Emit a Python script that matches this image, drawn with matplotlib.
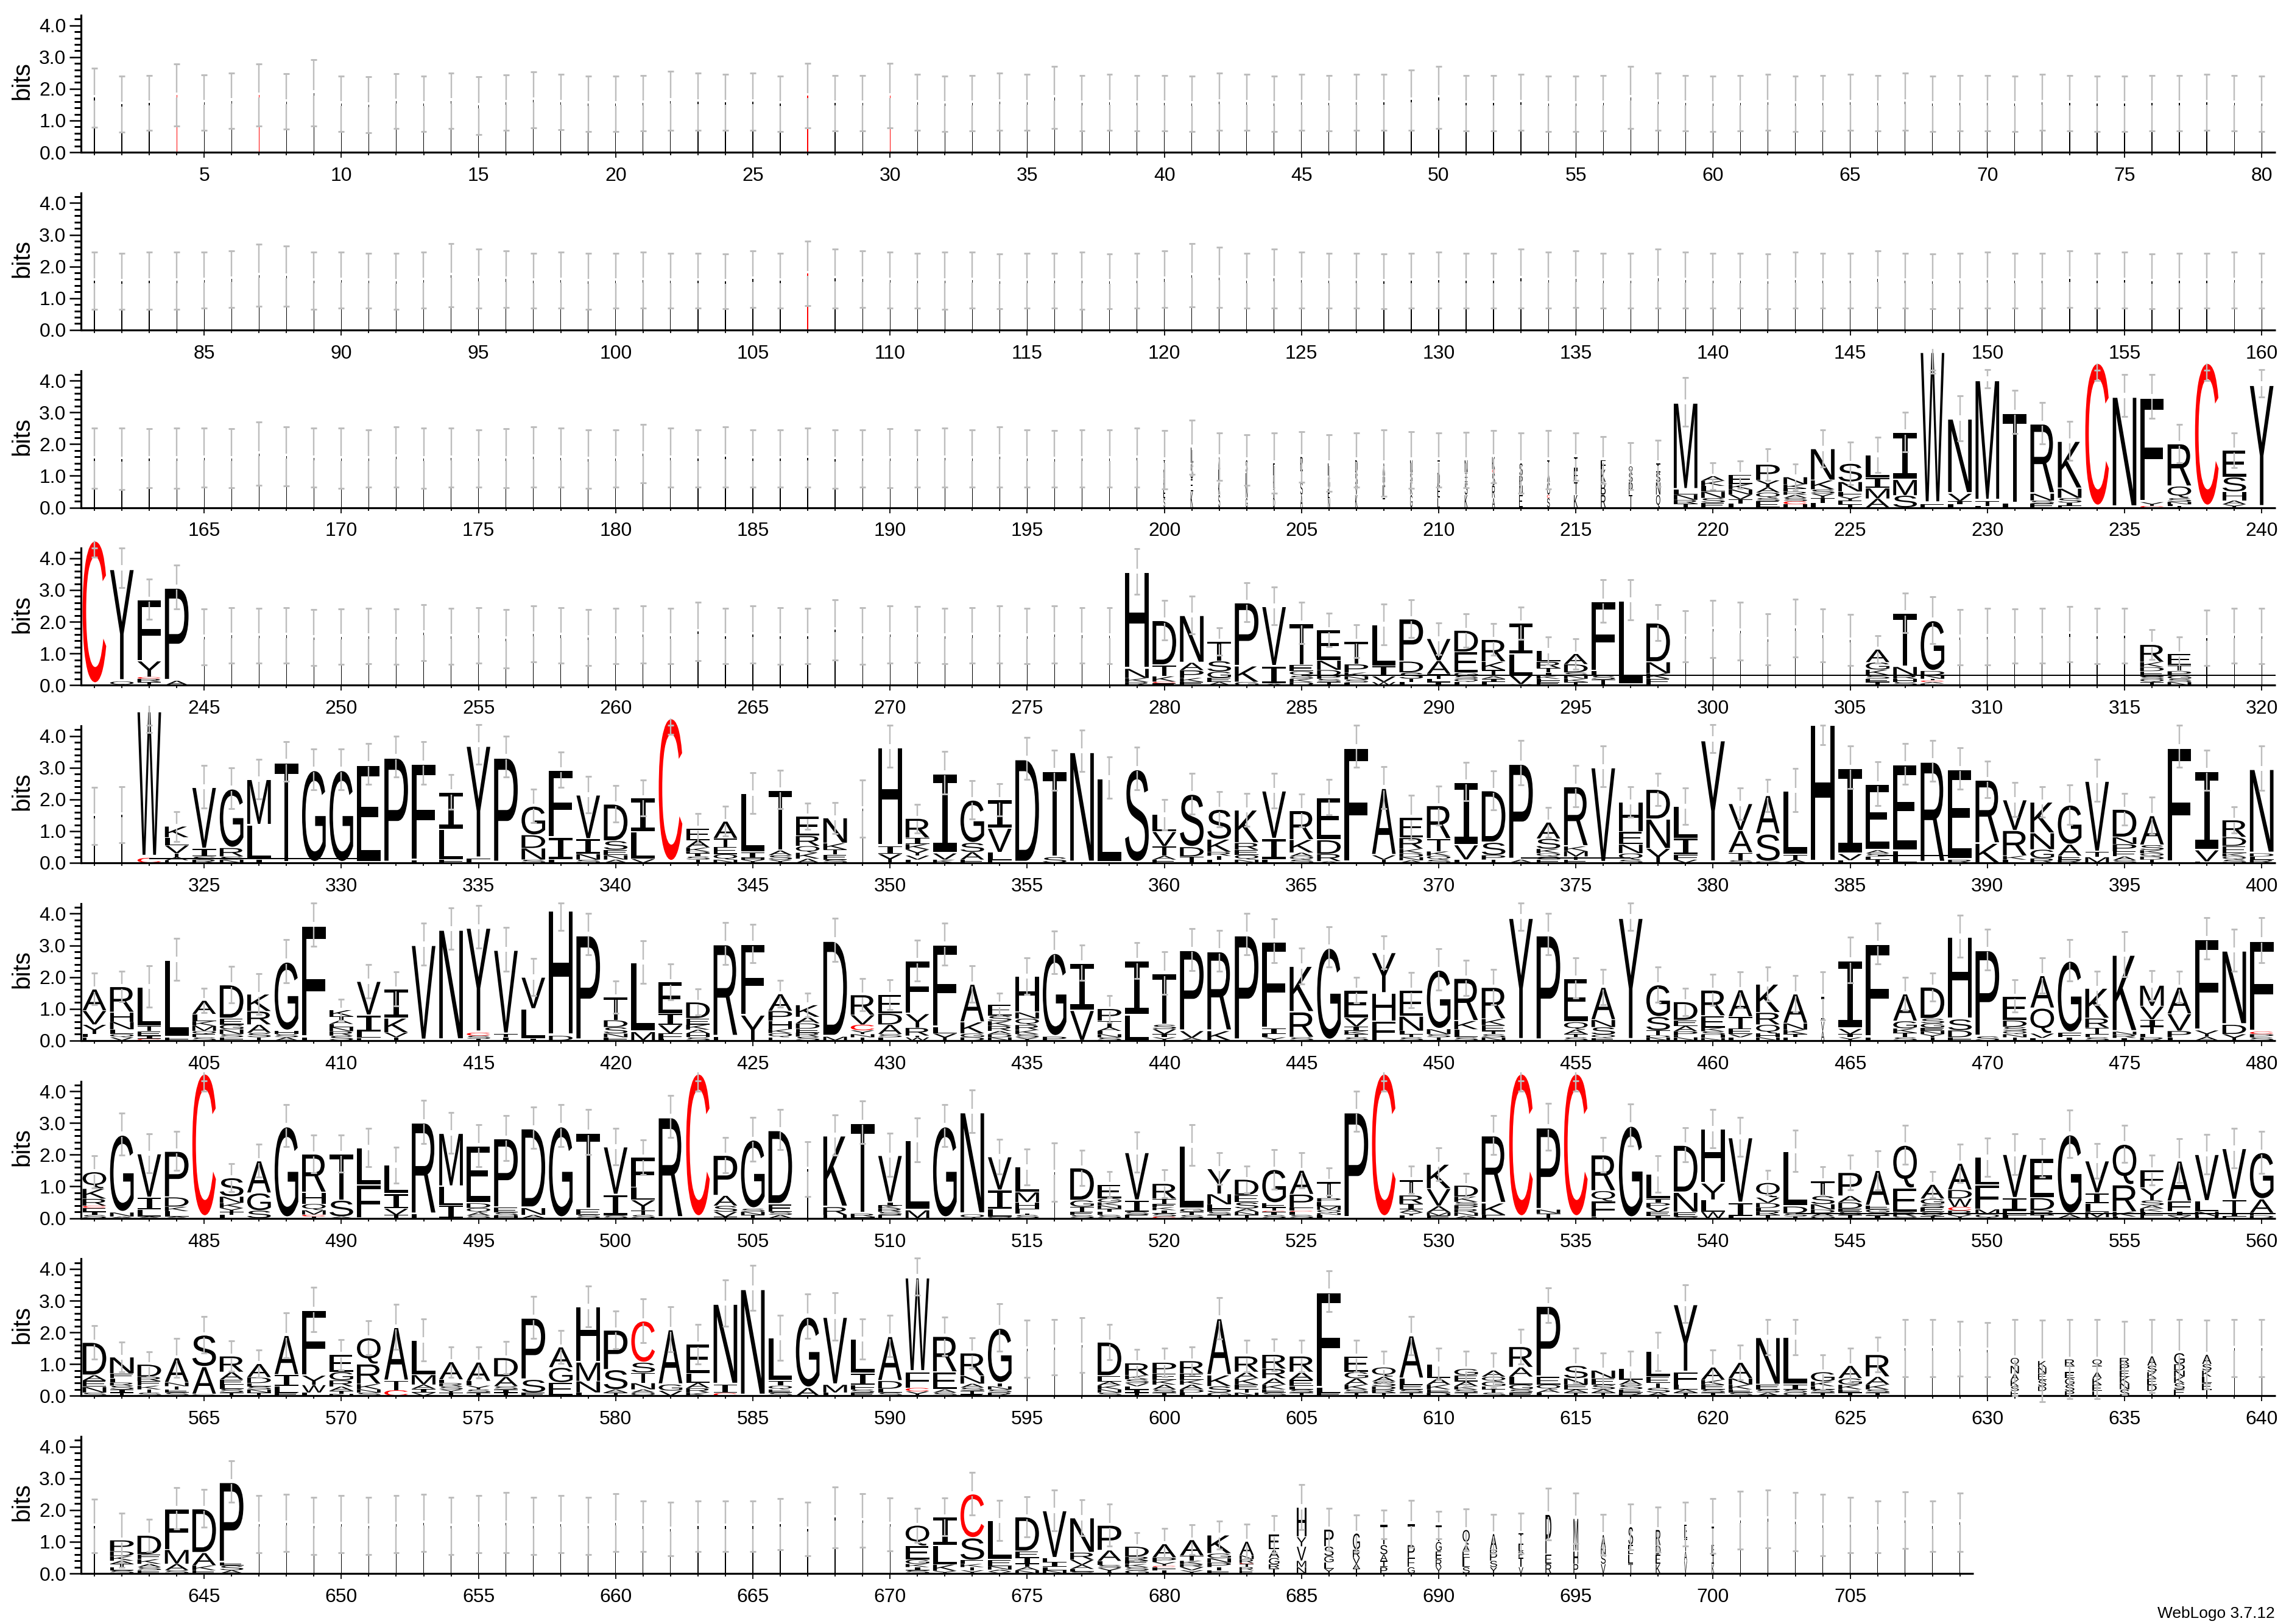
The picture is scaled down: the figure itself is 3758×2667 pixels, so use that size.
#!/usr/bin/env python3
"""Sequence logo, 709 positions in nine rows of 80 columns each."""

import matplotlib
matplotlib.use("Agg")
import matplotlib.pyplot as plt
from matplotlib.font_manager import FontProperties
from matplotlib.patches import PathPatch
from matplotlib.path import Path
from matplotlib.textpath import TextPath
from matplotlib.transforms import Affine2D

# ---------------------------------------------------------------------------
# Data. Stack entry: float = unresolved sliver of that height, "!h" = red sliver,
# string = letters bottom to top, each with its height in bits.
# ---------------------------------------------------------------------------

row1_stacks = [
    1.72, 1.52, 1.56, "!1.8", 1.57, 1.62, "!1.8", 1.6, 1.87, 1.53,
    1.5, 1.61, 1.53, 1.62, 1.47, 1.57, 1.65, 1.58, 1.53, 1.53,
    1.55, 1.62, 1.6, 1.57, 1.6, 1.53, "!1.78", 1.55, 1.55, "!1.78",
    1.57, 1.53, 1.55, 1.6, 1.57, 1.72, 1.55, 1.57, 1.55, 1.55,
    1.53, 1.6, 1.57, 1.53, 1.57, 1.55, 1.57, 1.57, 1.65, 1.72,
    1.55, 1.55, 1.57, 1.53, 1.53, 1.55, 1.72, 1.6, 1.55, 1.53,
    1.55, 1.57, 1.53, 1.55, 1.57, 1.55, 1.6, 1.53, 1.55, 1.55,
    1.53, 1.57, 1.55, 1.53, 1.53, 1.55, 1.55, 1.57, 1.55, 1.53,
]
row1_tops = [
    2.65, 2.4, 2.42, 2.78, 2.44, 2.5, 2.78, 2.47, 2.92, 2.4,
    2.38, 2.48, 2.4, 2.5, 2.38, 2.44, 2.53, 2.45, 2.4, 2.4,
    2.42, 2.55, 2.5, 2.45, 2.5, 2.4, 2.8, 2.42, 2.42, 2.8,
    2.45, 2.4, 2.42, 2.5, 2.45, 2.7, 2.42, 2.45, 2.42, 2.42,
    2.4, 2.5, 2.45, 2.4, 2.45, 2.42, 2.45, 2.45, 2.6, 2.7,
    2.42, 2.42, 2.45, 2.4, 2.4, 2.42, 2.7, 2.5, 2.42, 2.4,
    2.42, 2.45, 2.4, 2.42, 2.45, 2.42, 2.5, 2.4, 2.42, 2.42,
    2.4, 2.45, 2.42, 2.4, 2.4, 2.42, 2.42, 2.45, 2.42, 2.4,
]

row2_stacks = [
    1.55, 1.53, 1.55, 1.55, 1.57, 1.6, 1.72, 1.7, 1.55, 1.57,
    1.55, 1.53, 1.57, 1.72, 1.62, 1.6, 1.55, 1.57, 1.53, 1.55,
    1.57, 1.55, 1.55, 1.53, 1.6, 1.55, "!1.78", 1.62, 1.6, 1.57,
    1.55, 1.55, 1.57, 1.53, 1.55, 1.55, 1.55, 1.53, 1.55, 1.6,
    1.72, 1.65, 1.55, 1.62, 1.57, 1.55, 1.55, 1.53, 1.55, 1.57,
    1.55, 1.55, 1.62, 1.57, 1.6, 1.55, 1.55, 1.62, 1.57, 1.55,
    1.55, 1.53, 1.57, 1.55, 1.55, 1.6, 1.55, 1.53, 1.55, 1.57,
    1.55, 1.55, 1.6, 1.55, 1.57, 1.53, 1.55, 1.55, 1.57, 1.55,
]
row2_tops = [
    2.45, 2.42, 2.45, 2.45, 2.45, 2.5, 2.7, 2.65, 2.45, 2.45,
    2.42, 2.42, 2.45, 2.72, 2.55, 2.5, 2.42, 2.45, 2.42, 2.42,
    2.45, 2.42, 2.42, 2.4, 2.5, 2.42, 2.8, 2.55, 2.5, 2.45,
    2.42, 2.45, 2.45, 2.4, 2.42, 2.42, 2.45, 2.4, 2.42, 2.5,
    2.72, 2.6, 2.42, 2.55, 2.45, 2.42, 2.42, 2.4, 2.42, 2.45,
    2.42, 2.42, 2.55, 2.45, 2.5, 2.42, 2.42, 2.55, 2.45, 2.42,
    2.42, 2.4, 2.45, 2.42, 2.42, 2.5, 2.42, 2.4, 2.42, 2.45,
    2.42, 2.42, 2.5, 2.42, 2.45, 2.4, 2.42, 2.42, 2.45, 2.42,
]

row3_stacks = [
    1.55, 1.53, 1.55, 1.55, 1.57, 1.55, 1.7, 1.62, 1.57, 1.55,
    1.55, 1.6, 1.55, 1.57, 1.55, 1.55, 1.6, 1.57, 1.53, 1.55,
    1.7, 1.57, 1.55, 1.6, 1.55, 1.55, 1.57, 1.53, 1.55, 1.55,
    1.55, 1.57, 1.55, 1.6, 1.55, 1.53, 1.55, 1.55, 1.57,
    "S.3 E.3 K.3 N.3 T.3", "K.5 E.4 S.5 L.5", "S.4 K.4 E.4 A.4", "G.3 N.4 E.4 S.4", "D.3 T.3 K.4 E.4", "A.4 S.4 T.4 P.4",
    "N.3 E.3 G.4 L.4", "K.4 V.3 S.4 D.4", "T.3 E.4 Q.3 A.4", "G.4 K.4 S.3 N.4", "L.3 E.4 D.4 T.4", "K.4 S.4 E.3 N.4", "A.3 R.4 S.4 C.1 K.4",
    "E.4 N.3 P.3 S.4", "S.3 C.1 G.4 A.3 T.4", "K.4 T.4 E.4 I.4", "R.4 B.4 K.4 F.3", "T.4 P.4 S.3 Q.2", "Q.4 N.4 S.3 I.3",
    "T.12 R.12 N.17 L.15 M2.77", "E.15 S.15 N.2 L.18 K.16 A.15", "L.12 T.14 V.15 N.16 K.17 E.3", "E.2 S.1 Q.17 A.17 Y.22 P.5",
    "H.1 C.1 S.1 A.1 R.1 E.1 K.13 N.23", "L.15 T.15 Y.14 S.13 K.29 N1.0", "T.1 E.12 Y.13 F.15 N.31 S.58", "A.28 M.33 I.33 L.72", "S.38 M.5 I1.5",
    "E.1 W4.87", "L.1 I.1 V.24 N2.38", "L.05 T.15 M3.86", "L.13 T2.88", "E.12 S.1 N.22 R2.22", "E.05 I.1 S.15 N.3 K1.5",
    "C4.62", "N3.53", "C.05 Y.12 F3.33", "T.05 L.05 N.08 S.12 Q.37 R1.35", "C4.62", "Y.1 A.12 H.28 S.46 E.85", "Y3.91",
]
row3_tops = [
    2.5, 2.5, 2.48, 2.5, 2.5, 2.48, 2.7, 2.55, 2.5, 2.5,
    2.45, 2.55, 2.5, 2.5, 2.45, 2.48, 2.55, 2.5, 2.45, 2.45,
    2.62, 2.5, 2.45, 2.55, 2.45, 2.45, 2.5, 2.45, 2.45, 2.48,
    2.45, 2.5, 2.45, 2.55, 2.45, 2.42, 2.45, 2.45, 2.5,
    2.42, 2.75, 2.35, 2.3, 2.35, 2.4, 2.3, 2.35, 2.45, 2.4,
    2.35, 2.38, 2.42, 2.35, 2.42, 2.35, 2.24, 2.04, 2.13,
    4.09, 1.41, 1.47, 1.86, 1.38, 2.45, 2.06, 2.22, 3.0,
    5.0, 3.53, 4.34, 3.69, 3.32, 2.72,
    4.55, 4.19, 4.19, 2.63, 4.55, 2.36, 4.34,
]

row4_stacks = [
    "C4.62", "Q.12 Y3.58", "T.1 R.1 C.06 Y.5 F1.95", "A.14 P2.96", 1.52, 1.57, 1.56, 1.57, 1.5, 1.53,
    1.55, 1.53, 1.65, 1.54, 1.57, 1.46, 1.62, 1.57, 1.5, 1.55,
    1.6, 1.55, 1.7, 1.55, 1.6, 1.55, 1.55, 1.75, 1.55, 1.6,
    1.6, 1.55, 1.57, 1.6, 1.55, 1.6, 1.57, 1.56,
    "R.1 K.12 N.3 H3.07", "E.06 C.05 K.17 T.35 D1.42",
    "E.1 K.13 P.24 A.24 N1.5", "A.1 E.13 G.2 S.33 T.62", "G.1 K.5 P2.02", "A.05 I.55 V1.9", "D.1 K.1 S.1 Q.14 E.2 T1.32",
    "T.1 S.1 P.1 D.18 N.3 E.97", "L.08 S.1 N.1 K.12 P.26 T.73", "W.1 V.18 I.32 L1.32", "L.1 T.1 S.2 D.35 P1.35", "I.1 L.1 T.15 A.42 V.7",
    "L.1 Q.1 S.1 G.1 E.65 D.68", "L.1 I.1 A.08 T.2 K.26 R.7", "Y.03 V.29 L.66 I.98", "E.1 F.1 K.1 I.1 T.14 R.2 L.35", "T.1 K.1 N.1 S.1 D.26 A.33",
    "T.18 S.12 L.15 F2.21", "L2.69", "E.2 K.17 N.36 D1.24", 1.54, 1.77,
    1.71, 1.45, 1.8, 1.57, 1.43, "T.1 E.1 S.12 K.17 G.23 A.41", "S.1 H.1 R.1 N.28 T1.7", "E.05 A.05 C.05 T.05 N.12 D.13 G1.6", 1.51, 1.53,
    1.55, 1.56, 1.61, 1.55, 1.56, "T.1 Q.1 S.08 E.16 D.13 K.16 R.55", "N.1 S.1 G.1 P.14 T.19 E.36", 1.49, 1.56, 1.55,
]
row4_tops = [
    4.55, 4.33, 3.35, 3.79, 2.4, 2.44, 2.42, 2.44, 2.38, 2.4,
    2.42, 2.4, 2.53, 2.42, 2.44, 2.38, 2.5, 2.44, 2.38, 2.42,
    2.5, 2.42, 2.62, 2.42, 2.5, 2.45, 2.42, 2.7, 2.45, 2.5,
    2.48, 2.42, 2.45, 2.5, 2.42, 2.5, 2.45, 2.44,
    4.31, 2.67,
    2.81, 1.81, 3.24, 3.1, 2.61, 2.28, 1.91, 2.56, 2.69, 1.97,
    2.26, 1.94, 2.47, 1.53, 1.47, 3.33, 3.33, 2.54, 2.34, 2.67,
    2.62, 2.26, 2.71, 2.4, 2.24, 1.56, 2.9, 2.78, 2.39, 2.42,
    2.4, 2.42, 2.48, 2.42, 2.42, 1.75, 1.53, 2.37, 2.42, 2.42,
]

row5_stacks = [
    1.48, 1.52, "C.16 W4.68", "E.08 A.1 T.12 V.25 L.25 K.35", "R.1 S.1 I.24 V1.96", "N.1 S.1 R.27 G1.88", "I.1 L1.1 M1.44", "T3.2", "G2.95", "G2.95",
    "E3.12", "P3.35", "L.08 F3.07", "F.1 L.95 I1.19", "F.13 Y3.6", "P3.35", "S.1 N.36 D.42 G.91", "L.1 I.7 F2.14", "S.1 N.18 I.47 V1.4", "A.1 N.14 E.17 S.28 D1.17",
    "V.12 L.85 I1.08", "C4.62", "T.1 S.1 I.1 D.05 K.13 A.23 E.38", "N.1 Q.17 E.23 T.27 A.54", "Y.1 H.05 I.18 L1.87", "Y.1 S.14 A.15 T1.92", "A.13 K.19 Q.21 R.32 E.62", "S.1 E.16 T.16 K.2 N.8", 1.71, "Y.28 I.25 H3.14",
    "L.1 V.13 Y.19 K.17 I.2 R.61", "K.1 V.2 I2.54", "E.1 A.24 S.29 G1.36", "F.08 L.25 V.76 I.9", "D3.3", "S.18 T2.74", "N3.53", "L2.69", "S2.98", "E.1 A.12 T.3 V.46 L.54",
    "T.2 D.3 S1.68", "L.1 T.12 R.12 K.4 S.95", "N.1 Q.15 E.16 R.22 K1.04", "L.1 I.66 V1.52", "S.1 Q.1 A.12 K.41 R.92", "A.05 R.23 D.44 E1.35", "F3.67", "T.1 V.14 A2.13", "A.08 N.1 D.12 K.14 R.35 E.64", "S.1 Q.12 K.14 T.4 R1.05",
    "L.1 V.46 I2.0", "T.1 P.14 S.4 D1.65", "A.1 P3.05", "E.1 G.1 Q.1 K.14 S.32 A.52", "E.1 T.1 M.17 K.15 R1.9", "V3.04", "S.1 Q.2 N.28 E.4 H.94", "Y.45 N.93 D.94", "V.1 F.15 I.52 L1.02", "Y3.91",
    "S.08 T.24 A.7 V.85", "G.05 S.86 A1.22", "A.1 T.15 L2.04", "H4.4", "L.08 V.2 I2.73", "T.1 L.1 S.1 A.1 E2.1", "L.37 E2.75", "R3.22", "R.1 E2.87", "K.61 R2.02",
    "L.1 K.12 R.8 V.97", "R.14 G.28 N.52 K.98", "R.1 E.12 A.36 G1.25", "M.18 T.16 V2.26", "S.08 A.12 E.16 P.23 N.22 D.88", "T.1 D.1 Q.1 K.1 S.16 A.93", "F3.67", "L.04 V.36 I2.52", "S.1 Q.1 K.1 E.23 D.28 R.54", "R.1 L.1 D.1 N2.68",
]
row5_tops = [
    2.38, 2.4, 4.95, 1.62, 3.08, 3.0, 3.27, 3.83, 3.59, 3.59,
    3.76, 3.99, 3.83, 2.79, 4.35, 4.0, 2.32, 3.5, 2.72, 2.44,
    2.62, 4.55, 1.56, 1.78, 2.85, 2.92, 1.88, 1.91, 2.62, 4.33,
    1.85, 3.51, 2.6, 2.5, 3.96, 3.56, 4.18, 3.35, 3.65, 2.0,
    2.83, 2.24, 2.18, 2.83, 2.17, 2.63, 4.33, 3.04, 2.13, 2.42,
    3.16, 2.9, 3.85, 1.75, 3.08, 3.68, 2.4, 2.83, 2.37, 4.35,
    2.37, 2.64, 2.97, 4.36, 3.68, 3.19, 3.76, 3.86, 3.62, 3.21,
    2.53, 2.4, 2.45, 3.27, 2.18, 2.08, 4.33, 3.56, 1.76, 3.68,
]

row6_stacks = [
    "E.1 L.1 Y.3 V.44 A.68", "V.1 Q.1 L.15 N.24 H.3 R.81", "C.05 I.1 E.14 T.17 L1.24", "F.1 L2.46", "S.1 E.1 Q.1 M.16 K.15 L.22 A.43", "F.1 S.1 N.15 G.15 E.2 D1.06", "T.1 S.14 A.26 R.42 K.54", "A.1 S.1 H.1 G2.2", "L.1 F3.56", "S.15 R.14 N.13 E.1 A.12 T.12 K.2",
    "F.08 L.2 I.52 V1.07", "T.1 V.15 K.45 I.93", "V3.04", "N3.53", "T.05 S.1 C.1 Y3.34", "I.1 T.1 V2.68", "I.05 L.95 V1.0", "D.15 H4.0", "P3.35", "F.1 N.12 S.2 D.22 T.73",
    "M.27 L2.2", "L.05 F.17 V.27 I.35 E1.01", "S.1 H.12 A.12 K.16 E.2 D.51", "F.12 R2.94", "Y.8 F2.26", "E.1 Q.13 K.13 H.26 P.31 A.54", "S.12 R.13 E.12 D.17 A.2 K.38", "M.12 D3.05", "T.1 N.1 Y.12 C.18 V.3 R.64", "L.1 S.1 A.3 D.35 E.6",
    "W.1 T.05 R.25 Y.44 F1.68", "Y.22 L.2 F2.62", "D.1 G.12 K.36 A1.2", "N.1 D.1 A.1 R.16 K.15 S.17 E.36", "Y.1 S.1 K.13 R.16 Q.2 N.2 H1.14", "P.12 G2.66", "V.95 I1.5", "S.1 N.1 L.1 A.12 T.2 P.38", "L.8 I1.72", "Y.1 I.1 V.16 S.14 T1.62",
    "A.08 V.22 P2.57", "K.3 R2.53", "P3.35", "Y.1 L.1 I.18 F2.76", "S.1 R.8 K1.45", "G2.95", "S.1 T.1 K.1 I.14 V.27 E.88", "F.61 H.89 Y1.28", "S.1 T.1 L.1 N.46 E.83", "T.1 S.1 N.16 G1.88",
    "S.1 L.25 K.27 R1.35", "N.1 S.1 T.1 E.18 K.2 R1.0", "Y3.91", "P3.35", "S.1 T.1 A.14 Q.24 E1.39", "E.08 Q.1 S.24 N.23 A1.03", "Y3.91", "N.1 D.06 T.16 S.43 G1.01", "N.1 E.05 P.14 A.17 E.18 D.58", "N.08 H.1 S.11 K.11 E.38 R.81",
    "L.1 V.1 E.18 T.37 A.85", "N.1 H.12 Q.28 R.38 K.9", "E.1 T.1 K.14 N.2 A.93", "A.3 V.3 I.8", "Y.1 I.1 V.17 I2.17", "L.1 F2.96", "S.1 T.14 K.14 G.23 A.86", "T.1 Y.1 N.1 E.1 G.14 S.15 D1.0", "F.1 D.22 S.35 H2.62", "S.13 P2.74",
    "T.1 N.1 Q.1 S.13 D.2 E.77", "L.08 V.14 Q.8 A1.03", "I.1 F.14 G2.29", "S.1 F.1 T.2 R.3 K.95", "I.08 R.1 N.1 K2.44", "R.1 L.1 T.24 I.22 V.42 M.66", "L.1 P.2 V.54 A.84", "A.12 Y.2 F2.9", "Y.2 D.3 N2.35", "S.1 P.1 C.08 F2.89",
]
row6_tops = [
    2.12, 2.18, 2.35, 3.22, 1.65, 2.34, 2.1, 3.19, 4.34, 1.3,
    2.4, 2.17, 3.71, 4.19, 4.26, 3.57, 2.58, 4.34, 4.0, 1.88,
    3.14, 2.42, 1.62, 3.72, 3.67, 1.89, 1.5, 3.85, 1.95, 1.92,
    3.16, 3.71, 2.35, 1.5, 2.6, 3.46, 3.01, 1.42, 3.09, 2.79,
    3.53, 3.47, 4.0, 3.83, 2.92, 3.58, 2.0, 3.3, 2.15, 2.9,
    2.53, 2.24, 4.34, 4.0, 2.61, 2.24, 4.34, 2.31, 1.65, 2.08,
    2.17, 2.31, 2.05, 2.16, 3.26, 3.71, 1.99, 2.13, 3.96, 3.51,
    1.91, 2.6, 3.19, 2.18, 3.43, 2.21, 2.18, 3.88, 3.51, 3.88,
]

row7_stacks = [
    "S.1 I.1 E.12 C.07 R.22 K.32 Q.53", "A.05 N.13 G2.47", "A.05 L.22 I.38 V1.39", "A.05 L.17 K.14 D.3 P1.46", "C4.62", "L.1 T.1 Y.12 K.16 N.2 S.59", "S.24 G.55 A1.02", "G2.92", "T.05 C.06 M.14 Q.2 H.36 R1.22", "A.05 S.51 T1.48",
    "F1.05 L1.18", "T.1 V.2 I.47 L.9", "L.12 R2.92", "I.4 L.6 M1.69", "S.08 A.1 Q.14 D.15 E1.82", "H.08 S.1 E.15 P2.2", "A.1 N.22 D2.53", "G2.92", "S.1 E.18 T2.43", "S.08 I.66 V1.52",
    "S.1 T.14 Y.33 L.4 F.95", "R3.21", "C4.62", "T.04 V.16 S.19 A.32 P1.28", "T.1 N.1 S.1 G2.19", "A.1 S.1 E.23 D2.36", 1.55, "H.1 R.25 K2.27", "H.04 R.1 T2.88", "E.1 S.1 R.1 K.1 I.1 V1.49",
    "M.25 L2.22", "G2.92", "Q.12 N3.25", "Q.05 L.23 I.6 V1.06", "S.1 T.05 F.15 H.2 M.32 L.79", 1.45, "S.1 E.1 T.16 G.2 D1.03", "S.1 L.1 T.1 N.1 K.1 G.12 E.44", "E.1 S.1 I.36 V1.52", "C.05 S.1 I.1 K.1 E.1 T.16 R.48",
    "S.1 T.1 G.1 L2.0", "T.1 S.1 F.1 L.13 N.33 Y.8", "T.1 N.1 A.1 S.2 E.22 D.5", "S.1 I.1 C.03 T.1 E.15 G1.06", "S.1 L.1 C.03 F.1 P.42 A.76", "L.1 N.06 Q.1 M.12 E.14 P.11 T.52", "P3.37", "C4.62", "L.08 Y.1 A.1 I.17 R.27 T.49", "E.08 M.1 A.2 V.55 K.77",
    "A.07 N.1 R.12 P.12 S.1 K.17 D.35", "F.1 K.37 R2.15", "C4.62", "T.15 N.12 P2.61", "C4.62", "L.03 F.5 Q.33 R1.14", "G2.94", "I.07 E.13 V.14 P.14 I.13 L.78", "S.05 E.14 N.62 D1.5", "W.2 L.38 Y.52 H1.72",
    "L.06 I.42 V2.08", "T.1 R.12 L.1 D.16 V.17 Q.47", "T.05 S.1 D.22 L1.75", "G.06 A.1 D.11 N.17 S.26 T.47", "T.1 S.1 E.1 D.2 A.2 P.74", "I.08 S.1 G.1 E.12 A1.11", "S.05 R.14 E.75 Q1.37", "T.06 Q.14 E.13 S.11 G.17 A.45", "Y.1 R.14 C.11 W.27 D.27 A.84", "Q.12 M.16 F.76 L.88",
    "L.08 E.16 I.4 V1.38", "T.1 R.15 D.39 E1.26", "A.12 G2.54", "K.03 M.16 L.27 I.33 V1.02", "L.05 K.15 R.85 Q1.29", "E.1 L.1 K.1 A.1 S.16 Y.39 F.57", "V.08 I.13 F.32 A1.28", "H.06 N.15 L.33 V1.48", "E.05 I.08 T.45 V1.63", "D.08 E.08 A.44 G1.48",
]
row7_tops = [
    1.96, 3.32, 2.65, 2.73, 4.6, 1.71, 2.33, 3.59, 2.62, 2.63,
    2.84, 2.23, 3.72, 3.33, 2.95, 3.24, 3.51, 3.59, 3.42, 2.84,
    2.46, 3.87, 4.6, 2.55, 3.18, 3.42, 2.41, 3.26, 3.69, 2.67,
    3.16, 3.59, 4.04, 2.49, 2.17, 2.38, 2.15, 1.47, 2.71, 1.53,
    2.94, 2.06, 1.65, 2.16, 2.06, 1.58, 4.0, 4.6, 1.65, 2.22,
    1.41, 3.24, 4.6, 3.61, 4.6, 2.55, 3.6, 1.96, 2.85, 3.43,
    3.17, 1.51, 2.78, 1.62, 1.99, 2.13, 2.92, 1.47, 2.33, 2.52,
    2.66, 2.51, 3.4, 2.36, 2.93, 1.99, 2.5, 2.64, 2.83, 2.74,
]

row8_stacks = [
    "S.1 N.18 E.2 A.17 D1.04", "T.1 I.1 S.12 R.1 L.13 E.15 N.52", "S.1 T.1 K.12 E.14 R.14 D.39", "S.1 E.1 T.1 N.12 A.78", "G.05 A.87 S1.0", "T.1 S.12 L.13 E.16 A.24 R.5", "T.1 N.1 S.1 E.1 D.18 A.43", "E.1 L.2 I.36 A1.25", "L.1 W.24 Y.3 F2.08", "N.06 T.1 A.13 R.2 G.26 E.55",
    "S.1 N.1 K.17 R.63 Q.83", "C.18 T.3 A1.69", "V.1 I.12 A.13 M.31 L1.1", "T.1 Y.1 S.1 R.1 L.11 A.56", "T.1 S.1 Y.12 L.14 A.6", "T.1 I.1 S.1 A.3 D.6", "E.1 S.41 P1.96", "E.42 G.47 A.65", "L.1 N.36 M.6 H1.76", "T.1 A.1 S.62 P1.26",
    "Q.1 A.1 N.2 T.33 S.32 C1.32", "V.16 G.2 A1.74", "K.1 R.14 A.17 L.29 E.93", "C.09 I.27 N2.56", "N3.4", "S.1 E.1 Q.12 I.15 L1.36", "A.25 G2.26", "L.1 M.25 V2.15", "E.1 S.1 F.14 I.37 L1.08", "S.1 L.12 D.25 A1.41",
    "Y.14 C.11 F.5 W3.01", "S.1 A.1 E.55 R1.13", "E.06 T.1 S.1 A.12 N.25 R.72", "R.1 S.1 N.1 T.1 G1.75", 1.48, 1.53, 1.6, "S.1 N.1 K.13 A.12 E.18 D1.07", "T.1 I.1 L.1 V.1 S.12 K.12 R.39", "T.1 S.1 A.15 K.15 E.2 P.35",
    "L.1 D.1 A.15 K.15 E.2 R.4", "G.1 S.2 K.35 A1.8", "N.1 T.1 E.15 K.2 A.2 R.5", "S.1 E.1 K.15 A.2 R.3 R.45", "T.1 S.1 L.1 E.2 A.25 R.5", "E.1 L.15 F3.05", "T.1 S.1 K.15 A.2 G.2 E.5", "T.1 R.1 D.1 S.15 A.15 Q.3", "T.1 S.1 E.15 L.2 A1.35", "D.1 E.1 K.15 A.2 L.45",
    "T.1 S.1 K.1 A.15 E.2 G.2", "S.1 T.1 E.1 G.15 Q.15 A.2", "E.1 S.1 G.15 L.25 A.3 R.65", "L.1 A.1 Q.15 E.25 P2.25", "T.1 A.1 E.15 N.2 S.4", "T.1 A.1 S.15 E.2 N.25", "R.1 E.1 S.15 A.15 L.35", "A.1 S.15 T.15 E.2 L.8", "T.1 A.1 L.15 F.4 Y2.15", "T.1 S.1 E.15 K.15 A.4",
    "S.1 E.1 K.15 N.2 A.5", "A.1 S.1 E.15 N1.5", "Q.1 S.1 I.15 L1.5", "T.1 S.1 E.1 K.15 G.3", "T.1 E.1 K.15 G.2 A.4", "T.1 S.1 K.15 A.25 R.7", 1.5, 1.5, 1.48, 1.45,
    "E.15 S.15 K.2 A.2 N.25 Q.25", "T.15 D.15 S.2 E.2 N.2 K.2", "P.15 S.2 G.2 E.2 T.2 R.2", "L.15 E.2 K.2 A.2 T.2 Q.2", "S.2 N.2 K.2 E.2 P.2 R.2", "T.15 D.2 E.2 K.2 S.2 A.3", "E.2 S.2 K.2 N.2 D.2 G.35", "T.2 E.2 L.2 K.2 S.2 A.3", 1.5, 1.5,
]
row8_tops = [
    2.22, 1.69, 1.38, 1.81, 2.5, 1.73, 1.44, 2.62, 3.42, 1.78,
    2.37, 2.88, 2.42, 1.55, 1.55, 1.71, 3.13, 2.05, 3.46, 2.67,
    3.06, 2.81, 2.26, 3.65, 4.11, 2.54, 3.21, 3.25, 2.42, 2.53,
    4.35, 2.48, 1.83, 2.9, 2.38, 2.4, 2.46, 2.26, 1.47, 1.5,
    1.55, 3.1, 1.75, 1.8, 1.75, 3.95, 1.75, 1.4, 2.5, 1.5,
    1.4, 1.35, 2.1, 3.4, 1.5, 1.35, 1.4, 2.0, 3.5, 1.45,
    1.6, 2.4, 2.4, 1.3, 1.5, 1.85, 2.4, 2.4, 2.35, 2.3,
    2.4, 2.38, 2.4, 2.4, 2.35, 2.4, 2.4, 2.38, 2.4, 2.4,
]

row9_stacks = [
    1.5, "S.1 E.1 T.1 A.1 K.15 D.15 P.35", "E.1 S.1 A.1 K.15 E.15 D.6", "S.1 A.2 M.45 F1.3", "E.1 K.15 A.4 D1.4", "A.1 S.15 E.1 P2.55", 1.55, 1.6, 1.5, 1.55,
    1.5, 1.55, 1.6, 1.5, 1.55, 1.6, 1.5, 1.55, 1.5, 1.6,
    1.49, 1.4, 1.49, 1.49, 1.49, 1.55, 1.4, 1.76, 1.67, 1.55,
    "S.1 I.1 K.1 G.14 E.43 Q.65", "Y.08 K.2 L.6 I.91", "Y.1 T.1 K.1 E.12 S.7 C1.4", "V.06 A.06 N.11 E.2 L1.24", "N.1 A.1 T.1 I.2 E.2 D1.09", "N.1 L.1 I.16 F.13 V1.5", "S.06 L.08 A.13 V.16 R.23 N1.1", "T.04 Y.13 S.1 F.12 A.34 P.79", "G.1 S.1 K.1 E.1 R.13 D.32", "T.1 F.1 C.04 Y.12 P.14 A.43",
    "Y.1 V.1 R.1 K.1 T.16 A.5", "E.1 T.1 P.14 N.14 G.15 K.58", "E.1 R.1 T.1 C.03 R.12 N.12 A.44", "T.16 R.13 G.2 A.26 E.49", "N.2 M.2 V.45 Y.3 H.95", "Y.15 L.2 G.2 S.3 P.54", "I.15 A.15 V.2 R.25 G.52", "P.2 I.2 A.2 S.3 T.64", "G.2 F.3 P.4 T.67", "Y.2 R.25 E.25 G.3 T.53",
    "S.2 L.3 E.2 A.2 Q.48", "Y.2 S.2 P.25 D.1 A.5", "V.2 T.3 P.2 L.2 I.37", "R.3 E.3 P1.27", "P.3 H.4 M1.04", "V.3 S.3 N.2 A.42", "T.3 L.3 E.3 S.57", "K.3 E.3 D.28 R.5", "V.4 A.3 T.4 E.45", "K.3 I.3 E.3 T.6",
    1.68, 1.72, 1.63, 1.52, 1.53, 1.47, 1.68, 1.49, 1.62,
]
row9_tops = [
    2.35, 1.9, 1.7, 2.7, 2.65, 3.55, 2.45, 2.5, 2.4, 2.45,
    2.4, 2.45, 2.5, 2.4, 2.45, 2.55, 2.4, 2.45, 2.4, 2.51,
    2.29, 2.24, 2.29, 2.29, 2.29, 2.36, 2.24, 2.72, 2.52, 2.39,
    2.06, 2.38, 3.19, 2.31, 2.42, 2.64, 2.33, 2.18, 1.28, 1.42,
    1.53, 1.65, 1.56, 1.83, 2.81, 2.05, 1.84, 1.99, 2.31, 1.96,
    2.04, 1.87, 1.91, 2.69, 2.53, 1.86, 2.19, 2.09, 2.24, 2.37,
    2.6, 2.63, 2.55, 2.49, 2.4, 2.29, 2.58, 2.29, 2.54,
]

all_stacks = [row1_stacks, row2_stacks, row3_stacks, row4_stacks, row5_stacks,
              row6_stacks, row7_stacks, row8_stacks, row9_stacks]
all_tops = [row1_tops, row2_tops, row3_tops, row4_tops, row5_tops,
            row6_tops, row7_tops, row8_tops, row9_tops]

# columns whose stack is narrower than full width (few sequences there)
narrow_positions = [
    200, 201, 202, 203, 204, 205, 206, 207, 208, 209, 210, 211, 212, 213, 214, 215, 216, 217, 218,
    464, 631, 632, 633, 634, 635, 636, 637, 638,
    683, 684, 685, 686, 687, 688, 689, 690, 691, 692, 693, 694, 695, 696, 697, 698, 699, 700,
]
narrow_widths = [
    .07, .1, .08, .08, .08, .1, .08, .1, .1, .1, .1, .12, .12, .14, .12, .16, .2, .16, .18,
    .14, .35, .35, .4, .4, .4, .4, .45, .4,
    .6, .45, .4, .4, .3, .3, .3, .25, .3, .3, .2, .25, .2, .2, .2, .2, .12, .1,
]

# columns whose error bar does not sit around the stack top
low_positions = [228, 234, 238, 241, 323, 342, 384, 418, 485, 503, 528, 533, 535]
low_values = [4.23, 4.0, 4.0, 4.04, 4.1, 4.05, 3.72, 3.48, 4.0, 4.0, 4.0, 4.0, 4.0]

# long hairlines lying across some rows
hair_start = [285, 323, 373, 386, 543]
hair_end = [320.5, 331, 377, 389, 560.5]
hair_y = [0.31, 0.14, 0.16, 0.24, 0.15]

# ---------------------------------------------------------------------------
# Style
# ---------------------------------------------------------------------------

FIG_W, FIG_H = 3758, 2667
DPI = 100
AXES_LEFT, AXES_RIGHT = 132.5, 3735.7
AXES_H = 225.0
BASE_FIRST, BASE_STEP = 250.0, 291.75
RED, GREY = "#FF0000", "#BDBDBD"
LETTER_W = 0.86
SLIVER_W = 0.028

plt.rcParams["font.family"] = ["Liberation Sans", "DejaVu Sans"]


def px(n):
    return n * 72.0 / DPI


def _glyph(letter, cache={}):
    if letter not in cache:
        family = "Liberation Mono" if letter == "I" else "Liberation Sans"
        raw = TextPath((0, 0), letter, size=1, prop=FontProperties(family=family))
        box = raw.get_extents()
        cache[letter] = Path(raw.vertices, raw.codes).transformed(
            Affine2D().translate(-box.x0, -box.y0).scale(1 / box.width, 1 / box.height))
    return cache[letter]


def stack_height(entry):
    if isinstance(entry, float):
        return entry
    if entry.startswith("!"):
        return float(entry[1:])
    return sum(float(tok[1:]) for tok in entry.split())


def draw_stack(ax, pos, entry, width):
    if isinstance(entry, float) or entry.startswith("!"):
        color = RED if isinstance(entry, str) else "black"
        ax.bar(pos, stack_height(entry), width=SLIVER_W, color=color, linewidth=0, zorder=2, clip_on=False)
        return
    w = LETTER_W * width
    y = 0.0
    for tok in entry.split():
        letter, h = tok[0], float(tok[1:])
        xf = Affine2D().scale(w, h * 0.96).translate(pos - w / 2, y + h * 0.02)
        ax.add_patch(PathPatch(_glyph(letter).transformed(xf), facecolor=RED if letter == "C" else "black",
                               edgecolor="none", linewidth=0, zorder=2, clip_on=False))
        y += h


def draw_errors(ax, positions, stacks, tops):
    heights = [stack_height(s) for s in stacks]
    for pos, h, hi in zip(positions, heights, tops):
        if pos in low_positions:
            lo = low_values[low_positions.index(pos)]
            ax.vlines(pos, lo, hi, color=GREY, linewidth=px(2.4), zorder=3, clip_on=False)
            caps = [lo, min(hi, 4.33)]
        else:
            lo = 2 * h - hi
            ax.vlines([pos, pos], [lo, h + 0.08], [h - 0.08, hi], color=GREY, linewidth=px(2.4), zorder=3, clip_on=False)
            caps = [lo, hi]
        ax.hlines(caps, [pos - 0.11] * 2, [pos + 0.11] * 2, color=GREY, linewidth=px(3), zorder=3, clip_on=False)


def style_row(ax, first, last):
    ax.set_xlim(first - 0.5, first + 79.5)
    ax.set_ylim(0, 4.32)
    ax.patch.set_alpha(0)
    ax.spines["top"].set_visible(False)
    ax.spines["right"].set_visible(False)
    for side in ("left", "bottom"):
        ax.spines[side].set_linewidth(px(3.2))
    ax.spines["bottom"].set_bounds(first - 0.5, last + 0.5)
    ax.spines["bottom"].set_capstyle("butt")

    ax.set_xticks([p for p in range(first, last + 1) if p % 5 == 0])
    ax.set_xticks(range(first, last + 1), minor=True)
    ax.set_yticks([0, 1, 2, 3, 4], ["0.0", "1.0", "2.0", "3.0", "4.0"])
    ax.set_yticks([i * 0.2 for i in range(22)], minor=True)
    ax.tick_params(axis="x", which="major", length=px(9), width=px(1.8), labelsize=23, pad=px(15))
    ax.tick_params(axis="x", which="minor", length=px(5), width=px(1.8))
    ax.tick_params(axis="y", which="major", length=px(19), width=px(2.5), labelsize=23, pad=px(5))
    ax.tick_params(axis="y", which="minor", length=px(11), width=px(3))
    ax.set_ylabel("bits", fontsize=29)
    ax.yaxis.set_label_coords(-0.0215, 0.52)


def main():
    fig = plt.figure(figsize=(FIG_W / DPI, FIG_H / DPI), dpi=DPI, facecolor="white")

    for r, (stacks, tops) in enumerate(zip(all_stacks, all_tops)):
        assert len(stacks) == len(tops), f"row {r + 1}: {len(stacks)} stacks, {len(tops)} tops"
        base = BASE_FIRST + r * BASE_STEP
        ax = fig.add_axes([AXES_LEFT / FIG_W, 1 - base / FIG_H,
                           (AXES_RIGHT - AXES_LEFT) / FIG_W, AXES_H / FIG_H])
        first = r * 80 + 1
        positions = list(range(first, first + len(stacks)))
        style_row(ax, first, positions[-1])

        for pos, entry in zip(positions, stacks):
            width = narrow_widths[narrow_positions.index(pos)] if pos in narrow_positions else 1.0
            draw_stack(ax, pos, entry, width)
        draw_errors(ax, positions, stacks, tops)

        for x0, x1, y in zip(hair_start, hair_end, hair_y):
            if first <= x0 <= positions[-1]:
                ax.hlines(y, x0, x1, color="black", linewidth=px(2), zorder=2, clip_on=False)

    fig.text(3735 / FIG_W, 1 - 2650 / FIG_H, "WebLogo 3.7.12", fontsize=19, ha="right", va="center")
    fig.savefig("out.png", dpi=DPI, facecolor="white")


if __name__ == "__main__":
    main()
